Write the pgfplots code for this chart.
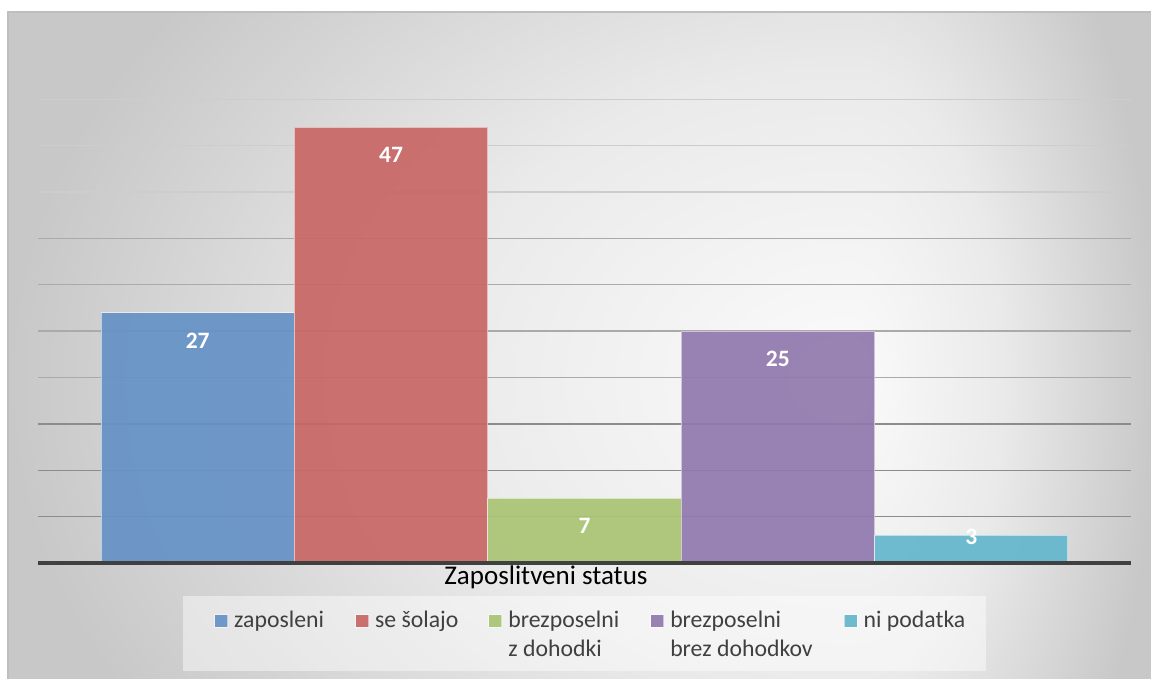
\documentclass[border=0pt]{standalone}
\usepackage{pgfplots}
\pgfplotsset{compat=1.18}
\usepackage{fontspec}
\setmainfont{Carlito}
\definecolor{cblue}{RGB}{101,146,198}
\definecolor{cred}{RGB}{200,103,101}
\definecolor{cgreen}{RGB}{169,196,116}
\definecolor{cpurple}{RGB}{144,121,174}
\definecolor{ccyan}{RGB}{99,182,204}
\definecolor{bgA}{RGB}{251,251,251}
\definecolor{bgB}{RGB}{234,234,234}
\definecolor{bgC}{RGB}{200,200,200}
\definecolor{legtext}{RGB}{64,64,64}
\definecolor{axisc}{RGB}{64,64,64}
\definecolor{gridA}{RGB}{140,140,140}
\definecolor{gridB}{RGB}{170,170,170}
\definecolor{gridC}{RGB}{205,205,205}
\definecolor{frame}{RGB}{190,190,190}
\pgfdeclareradialshading{bgshade}{\pgfpoint{0bp}{0bp}}{color(0bp)=(bgA); color(12.5bp)=(bgB); color(25bp)=(bgC); color(50bp)=(bgC)}
\pgfplotsset{
  mybar/.style={ybar, bar width=1, bar shift=0pt, fill=#1, draw=white, draw opacity=0.55,
    line width=1bp, fill opacity=0.92, nodes near coords,
    legend image code/.code={\draw (0bp,0.5bp) rectangle (13bp,13bp); \path (19bp,0bp);}},
}
\begin{document}
\begin{tikzpicture}
\path[use as bounding box] (0bp,0bp) rectangle (1151bp,679bp);
\fill[white] (0bp,0bp) rectangle (1151bp,679bp);
\fill[bgC] (8bp,0bp) rectangle (1151bp,667bp);
\begin{scope}
\clip (8bp,0bp) rectangle (850bp,667bp);
\shade[shading=bgshade] (850bp,299bp) ellipse [x radius=842bp, y radius=620bp];
\end{scope}
\begin{scope}
\clip (850bp,0bp) rectangle (1151bp,667bp);
\shade[shading=bgshade] (850bp,299bp) ellipse [x radius=305bp, y radius=620bp];
\end{scope}
\draw[frame, line width=1.5bp] (8bp,0bp) -- (8bp,667bp) -- (1151bp,667bp);
\fill[white, fill opacity=0.45] (183bp,8bp) rectangle (986bp,83bp);
\node[anchor=base, inner sep=0pt, font=\fontsize{27bp}{32bp}\selectfont, text=black] at (546bp,94bp) {Zaposlitveni status};
\begin{axis}[
  at={(38bp,116bp)}, anchor=south west,
  width=1093bp, height=463.75bp, scale only axis,
  xmin=0.174, xmax=5.826, ymin=0, ymax=50,
  axis line style={draw=none},
  xtick=\empty,
  ytick={5,10,15}, minor ytick={20,25,30,35},
  extra y ticks={40,45,50},
  yticklabels={,,}, extra y tick labels={,,},
  major tick length=0pt, minor tick length=0pt,
  tick style={draw=none},
  ymajorgrids, yminorgrids,
  major grid style={line width=1.3bp, color=gridA},
  minor grid style={line width=1.3bp, color=gridB},
  extra y tick style={grid=major, major grid style={line width=1.2bp, color=gridC}, tick style={draw=none}},
  clip=false,
  /pgf/number format/assume math mode=true,
  legend columns=5,
  legend style={at={(0.16102,-0.10285)}, anchor=north west, draw=none, fill=none,
    inner sep=0pt, column sep=0pt, row sep=0pt,
    cells={anchor=base west},
    nodes={inner sep=0pt, text height=17bp, text depth=36bp, text=legtext},
    font=\fontsize{23.75bp}{28.3bp}\selectfont},
  every node near coord/.append style={font=\fontsize{23.5bp}{23.5bp}\bfseries\selectfont,
    text=white, text opacity=1, anchor=center, inner sep=0pt, yshift=-28bp},
]
\addplot[mybar=cblue] coordinates {(1,27)};
\addlegendentry{zaposleni\rule{31bp}{0pt}}
\addplot[mybar=cred] coordinates {(2,47)};
\addlegendentry{se šolajo\rule{30bp}{0pt}}
\addplot[mybar=cgreen] coordinates {(3,7)};
\addlegendentry{\begin{tabular}[t]{@{}l@{}}brezposelni\\z dohodki\end{tabular}\rule{31bp}{0pt}}
\addplot[mybar=cpurple] coordinates {(4,25)};
\addlegendentry{\begin{tabular}[t]{@{}l@{}}brezposelni\\brez dohodkov\end{tabular}\rule{31bp}{0pt}}
\addplot[mybar=ccyan, every node near coord/.append style={yshift=26bp}] coordinates {(5,3)};
\addlegendentry{ni podatka}
\draw[axisc, line width=3.5bp] (axis cs:0.174,0) -- (axis cs:5.826,0);
\end{axis}
\end{tikzpicture}
\end{document}
